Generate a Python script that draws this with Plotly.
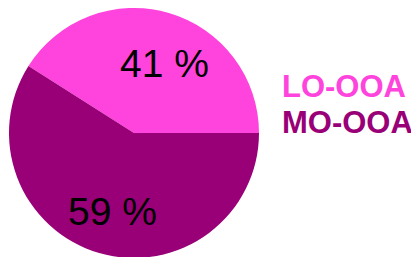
import plotly.graph_objects as go

labels = ["LO-OOA", "MO-OOA"]
values = [41, 59]
colors = ["#FF44DD", "#990077"]
value_texts = ["%d %%" % v for v in values]

# first slice starts at 3 o'clock and runs counterclockwise
start_rot = 90 - 360 * values[0] / sum(values)

fig = go.Figure()
fig.add_trace(go.Pie(
    labels=labels,
    values=values,
    marker=dict(colors=colors, line=dict(width=0)),
    sort=False,
    direction="counterclockwise",
    rotation=start_rot,
    textinfo="none",
    showlegend=False,
    hoverinfo="label+percent",
))

# value labels inside slices
label_pos = [(0.621, 0.778), (0.413, 0.188)]
for txt, (x, y) in zip(value_texts, label_pos):
    fig.add_annotation(
        x=x, y=y, xref="paper", yref="paper",
        xanchor="center", yanchor="middle",
        text=txt, showarrow=False,
        font=dict(family="Liberation Sans, Arial", size=39, color="black"),
    )

# coloured legend text
ys = [0.687, 0.542]
for lab, col, y in zip(labels, colors, ys):
    fig.add_annotation(
        x=1.079, y=y, xref="paper", yref="paper",
        xanchor="left", yanchor="middle",
        text="<b>%s</b>" % lab, showarrow=False,
        font=dict(family="Liberation Sans, Arial", size=31, color=col),
    )

fig.update_layout(
    width=419, height=257,
    margin=dict(l=0, r=167, t=0, b=7),
    paper_bgcolor="white",
    plot_bgcolor="white",
)

fig.write_html("out.html")
